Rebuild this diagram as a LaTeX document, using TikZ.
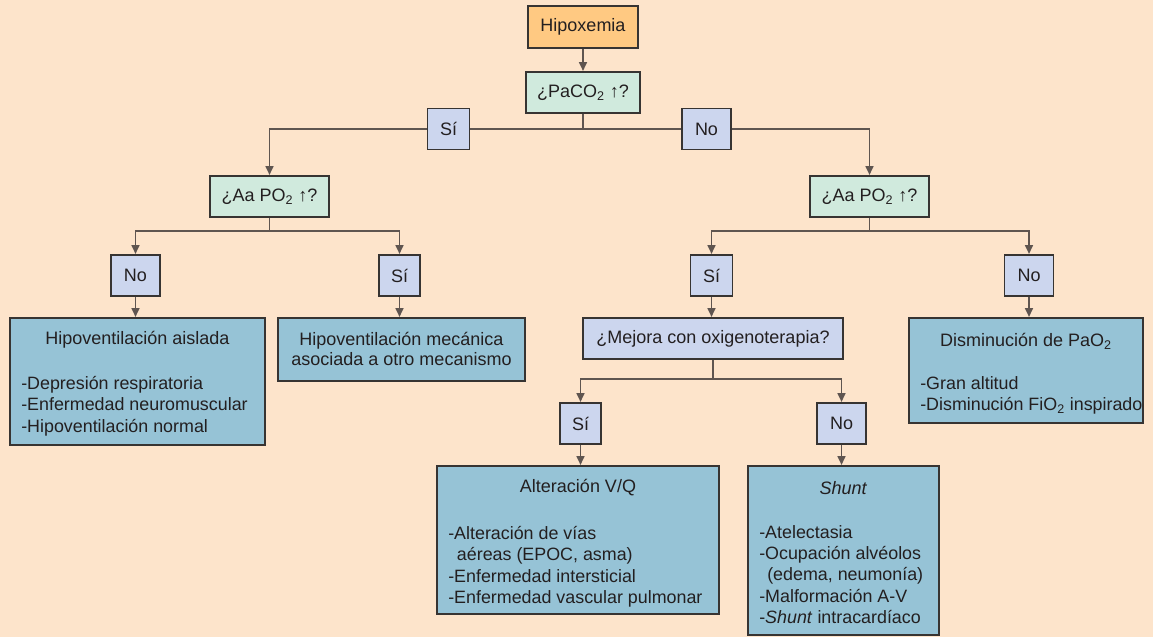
\documentclass[tikz,border=0pt]{standalone}
\usepackage{fontspec}
\setmainfont{Liberation Sans}
\usetikzlibrary{arrows.meta}
\definecolor{bgc}{RGB}{253,228,203}
\definecolor{orangec}{RGB}{255,201,130}
\definecolor{greenc}{RGB}{208,234,221}
\definecolor{lavc}{RGB}{204,214,238}
\definecolor{bluec}{RGB}{150,195,214}
\definecolor{edgec}{RGB}{55,52,50}
\definecolor{linec}{RGB}{95,85,80}
\definecolor{txtc}{RGB}{35,31,32}
\tikzset{
  bx/.style={draw=edgec, line width=1.1pt, inner sep=0pt, text=txtc, font=\fontsize{13.5}{16}\selectfont},
  orangebox/.style={bx, fill=orangec},
  greenbox/.style={bx, fill=greenc},
  lavbox/.style={bx, fill=lavc},
  bluebox/.style={bx, fill=bluec},
  ttl/.style={inner sep=0pt, text=txtc, font=\fontsize{13.5}{16}\selectfont, align=center},
  lst/.style={inner sep=0pt, text=txtc, font=\fontsize{13.4}{16}\selectfont, align=left, anchor=north west},
  conn/.style={draw=linec, line width=1pt},
  arr/.style={conn, -{Triangle[length=6.5pt,width=6pt]}, shorten >=0.3pt},
}
\begin{document}
\begin{tikzpicture}[x=0.75pt, y=-0.75pt]
\fill[bgc] (0,0) rectangle (1153,637);
\useasboundingbox (0,0) rectangle (1153,637);

% boxes (centre, size in pt = px*0.75)
\node[orangebox, minimum width=82.5pt, minimum height=31.5pt] (hipox) at (583,27) {Hipoxemia};
\node[greenbox, minimum width=85.5pt, minimum height=30.75pt] (paco) at (583,92.5) {¿PaCO\textsubscript{2} ↑?};
\node[lavbox, minimum width=31.5pt, minimum height=30.75pt] (siT) at (448.5,129) {Sí};
\node[lavbox, minimum width=36.75pt, minimum height=30.75pt] (noT) at (706.5,129) {No};
\node[greenbox, minimum width=89.25pt, minimum height=30.75pt] (aaL) at (269.5,196.5) {¿Aa PO\textsubscript{2} ↑?};
\node[greenbox, minimum width=89.25pt, minimum height=30.75pt] (aaR) at (869.5,196.5) {¿Aa PO\textsubscript{2} ↑?};
\node[lavbox, minimum width=36.75pt, minimum height=30.75pt] (noL) at (135.5,275.5) {No};
\node[lavbox, minimum width=30.75pt, minimum height=30.75pt] (siL) at (399.5,275.5) {Sí};
\node[lavbox, minimum width=31.5pt, minimum height=30.75pt] (siR) at (711.5,275.5) {Sí};
\node[lavbox, minimum width=36.75pt, minimum height=30.75pt] (noR) at (1029,275.5) {No};

\node[bluebox, minimum width=191.25pt, minimum height=95.25pt] (hipais) at (137.5,381.5) {};
\node[bluebox, minimum width=185.25pt, minimum height=47.25pt] (hipmec) at (401.5,349.5) {};
\node[lavbox, minimum width=195pt, minimum height=30.75pt] (mejora) at (713,338.5) {¿Mejora con oxigenoterapia?};
\node[bluebox, minimum width=175.5pt, minimum height=78.75pt] (dismin) at (1026,370.5) {};
\node[lavbox, minimum width=30.75pt, minimum height=30.75pt] (siB) at (580.5,423.5) {Sí};
\node[lavbox, minimum width=36.75pt, minimum height=30.75pt] (noB) at (841.5,423.5) {No};
\node[bluebox, minimum width=211.5pt, minimum height=111pt] (alter) at (578,540) {};
\node[bluebox, minimum width=143.25pt, minimum height=126.75pt] (shunt) at (843.5,550.5) {};

% texts inside boxes
\node[ttl] (hipaisT) at (137.5,340) {Hipoventilación aislada};
\node[lst] (hipaisL) at (21,376) {-Depresión respiratoria\\-Enfermedad neuromuscular\\-Hipoventilación normal};
\node[ttl, font=\fontsize{13.5}{15}\selectfont] (hipmecT) at (401.5,349) {Hipoventilación mecánica\\asociada a otro mecanismo};
\node[ttl] (disminT) at (1026,341) {Disminución de PaO\textsubscript{2}};
\node[lst] (disminL) at (920,376) {-Gran altitud\\-Disminución FiO\textsubscript{2} inspirado};
\node[ttl] (alterT) at (578,488) {Alteración V/Q};
\node[lst] (alterL) at (448,526) {-Alteración de vías\\\hspace*{6.5pt}aéreas (EPOC, asma)\\-Enfermedad intersticial\\-Enfermedad vascular pulmonar};
\node[ttl] (shuntT) at (843.5,488) {\textit{Shunt}};
\node[lst] (shuntL) at (759,525) {-Atelectasia\\-Ocupación alvéolos\\\hspace*{6pt}(edema, neumonía)\\-Malformación A-V\\-\textit{Shunt} intracardíaco};

% junctions
\coordinate (j0) at (583,129);
\coordinate (jL) at (269.5,231);
\coordinate (jR) at (869.5,231);
\coordinate (jB) at (713,379);

% connectors
\draw[arr] (hipox) -- (paco);
\draw[conn] (paco) -- (j0);
\draw[arr] (siT.west) -| (aaL.north);
\draw[conn] (siT.east) -- (noT.west);
\draw[arr] (noT.east) -| (aaR.north);

\draw[conn] (aaL) -- (jL);
\draw[arr] (jL) -| (noL.north);
\draw[arr] (jL) -| (siL.north);
\draw[arr] (noL) -- (noL |- hipais.north);
\draw[arr] (siL) -- (siL |- hipmec.north);

\draw[conn] (aaR) -- (jR);
\draw[arr] (jR) -| (siR.north);
\draw[arr] (jR) -| (noR.north);
\draw[arr] (siR) -- (siR |- mejora.north);
\draw[arr] (noR) -- (noR |- dismin.north);

\draw[conn] (mejora) -- (jB);
\draw[arr] (jB) -| (siB.north);
\draw[arr] (jB) -| (noB.north);
\draw[arr] (siB) -- (siB |- alter.north);
\draw[arr] (noB) -- (noB |- shunt.north);
\end{tikzpicture}
\end{document}
